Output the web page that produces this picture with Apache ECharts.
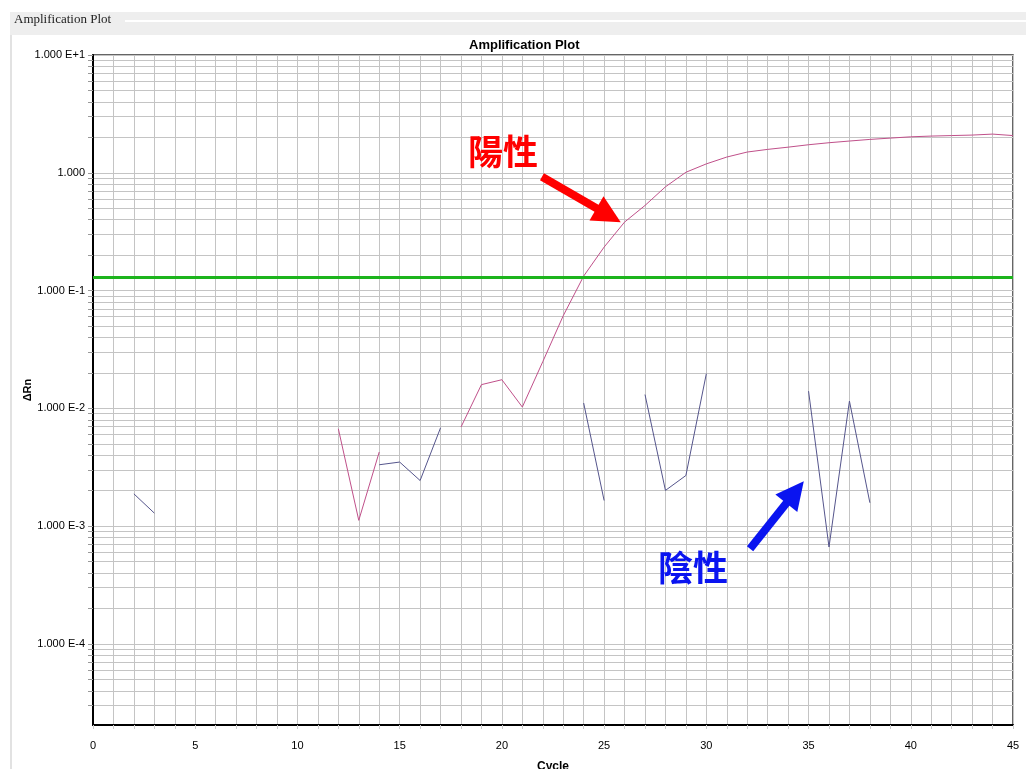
<!DOCTYPE html>
<html><head><meta charset="utf-8">
<script src="https://cdn.jsdelivr.net/npm/echarts@6/dist/echarts.min.js"></script>
<style>html,body{margin:0;padding:0;background:#fff}#c{width:1026px;height:769px}</style>
</head><body><div id="c"></div>
<script>
// ---- data ----
const cycles = [1,2,3,4,5,6,7,8,9,10,11,12,13,14,15,16,17,18,19,20,21,22,23,24,25,26,27,28,29,30,31,32,33,34,35,36,37,38,39,40,41,42,43,44,45];
const positiveRn = [null,null,null,null,null,null,null,null,null,null,null,0.00671,0.00112,0.00426,null,null,null,0.00694,0.0159,0.0175,0.01026,0.0249,0.0611,0.1327,0.234,0.3815,0.528,0.760,1.01,1.19,1.36,1.50,1.58,1.65,1.73,1.80,1.86,1.92,1.97,2.02,2.05,2.07,2.09,2.13,2.07];
const negativeRn = [null,0.00188,0.00129,null,null,null,null,null,null,null,null,null,null,0.00332,0.00350,0.00244,0.00684,null,null,null,null,null,null,0.0111,0.00165,null,0.0131,0.00201,0.00269,0.0197,null,null,null,null,0.0140,0.000665,0.01153,0.00158,null,null,null,null,null,null,null];
const threshold = 0.1276;
const yMajorTicks = [1e-4, 1e-3, 1e-2, 1e-1, 1, 10];
const yMinorMantissas = [2,3,4,5,6,7,8,9];
const xLabelTicks = [0,5,10,15,20,25,30,35,40,45];
const positiveLabel = {text: '陽性', at: [20.05, 1.51]};
const negativeLabel = {text: '陰性', at: [29.35, 4.43e-4]};
const positiveArrow = [[21.96, 0.925], [25.22, 0.436]];
const negativeArrow = [[32.14, 6.43e-4], [34.34, 1.94e-3]];

// gridline values (1..9 x 10^k) inside the axis range
const yGridValues = [2e-5,3e-5,4e-5,5e-5,6e-5,7e-5,8e-5,9e-5];
yMajorTicks.forEach(function (m) {
  yGridValues.push(m);
  if (m < 10) yMinorMantissas.forEach(function (k) { yGridValues.push(+(m * k).toPrecision(3)); });
});

function pairs(vals) { return cycles.map(function (c, i) { return [c, vals[i]]; }); }
function yFmt(v) {
  const e = Math.round(Math.log10(v));
  if (e === 0) return '1.000';
  return '1.000 E' + (e > 0 ? '+' : '') + e;
}
const sans = 'Arial, "Liberation Sans", sans-serif';
const cjk = '"Noto Sans CJK TC", "Noto Sans CJK JP", sans-serif';

const chart = echarts.init(document.getElementById('c'));
chart.setOption({
  animation: false,
  backgroundColor: '#ffffff',
  graphic: [
    {type: 'rect', shape: {x: 10, y: 12, width: 1016, height: 23}, style: {fill: '#eeeeee'}, z: -10},
    {type: 'line', shape: {x1: 125, y1: 21, x2: 1026, y2: 21}, style: {stroke: '#ffffff', lineWidth: 2}, z: -9},
    {type: 'line', shape: {x1: 11, y1: 35, x2: 11, y2: 769}, style: {stroke: '#e2e2e2', lineWidth: 2}, z: -9}
  ],
  title: [
    {text: 'Amplification Plot', left: 14, top: 13, padding: 0,
     textStyle: {fontFamily: '"Liberation Serif", "DejaVu Serif", serif', fontSize: 13, fontWeight: 'normal', color: '#222'}},
    {text: 'Amplification Plot', left: 469, top: 39, padding: 0,
     textStyle: {fontFamily: sans, fontSize: 13, fontWeight: 'bold', color: '#000'}}
  ],
  grid: {left: 93, right: 13, top: 55, bottom: 44, outerBoundsMode: 'none', containLabel: false,
         show: true, borderColor: '#333', borderWidth: 1.5, backgroundColor: '#fff'},
  xAxis: {
    type: 'value', min: 0, max: 45, interval: 1,
    name: 'Cycle', nameLocation: 'middle', nameGap: 36,
    nameTextStyle: {fontFamily: sans, fontSize: 12, fontWeight: 'bold', color: '#000'},
    axisLine: {show: true, lineStyle: {color: '#000', width: 2}},
    axisTick: {show: true, length: 4, lineStyle: {color: '#cccccc'}},
    axisLabel: {customValues: xLabelTicks, fontFamily: sans, fontSize: 11, color: '#000', margin: 15},
    splitLine: {show: true, lineStyle: {color: '#c4c4c4', width: 1}}
  },
  yAxis: {
    type: 'log', logBase: 10, min: 2.05e-5, max: 10,
    name: 'ΔRn', nameLocation: 'middle', nameGap: 60, nameMoveOverlap: false,
    nameTextStyle: {fontFamily: sans, fontSize: 11, fontWeight: 'bold', color: '#000'},
    axisLine: {show: true, lineStyle: {color: '#000', width: 2}},
    axisTick: {show: true, length: 5, customValues: yGridValues, lineStyle: {color: '#999'}},
    axisLabel: {customValues: yMajorTicks, formatter: yFmt, fontFamily: sans, fontSize: 11, color: '#000', margin: 8},
    splitLine: {show: true, lineStyle: {color: '#c4c4c4', width: 1}}
  },
  series: [
    {
      name: 'negative', type: 'line', data: pairs(negativeRn), showSymbol: false, connectNulls: false,
      lineStyle: {color: '#55558c', width: 1}, itemStyle: {color: '#55558c'}, z: 3,
      markLine: {
        silent: true, animation: false, symbol: ['none', 'triangle'], symbolSize: 28,
        lineStyle: {color: '#0a14f0', width: 8, type: 'solid'}, label: {show: false},
        data: [[{coord: negativeArrow[0]}, {coord: negativeArrow[1]}]]
      },
      markPoint: {
        silent: true, symbol: 'circle', symbolSize: 1, itemStyle: {color: 'rgba(0,0,0,0)'},
        label: {show: true, position: 'inside', formatter: negativeLabel.text, fontFamily: cjk, fontSize: 35, fontWeight: 'bold', color: '#0a14f0'},
        data: [{coord: negativeLabel.at}]
      }
    },
    {
      name: 'positive', type: 'line', data: pairs(positiveRn), showSymbol: false, connectNulls: false,
      lineStyle: {color: '#c0508a', width: 1}, itemStyle: {color: '#c0508a'}, z: 4,
      markLine: {
        silent: true, animation: false, symbol: 'none',
        lineStyle: {color: '#1db41d', width: 3, type: 'solid'}, label: {show: false},
        data: [{yAxis: threshold}]
      }
    },
    {
      name: 'annot', type: 'line', data: [], z: 6,
      markLine: {
        silent: true, animation: false, symbol: ['none', 'triangle'], symbolSize: 28,
        lineStyle: {color: '#ff0000', width: 8, type: 'solid'}, label: {show: false},
        data: [[{coord: positiveArrow[0]}, {coord: positiveArrow[1]}]]
      },
      markPoint: {
        silent: true, symbol: 'circle', symbolSize: 1, itemStyle: {color: 'rgba(0,0,0,0)'},
        label: {show: true, position: 'inside', formatter: positiveLabel.text, fontFamily: cjk, fontSize: 35, fontWeight: 'bold', color: '#ff0000'},
        data: [{coord: positiveLabel.at}]
      }
    }
  ]
});
</script>
</body></html>
